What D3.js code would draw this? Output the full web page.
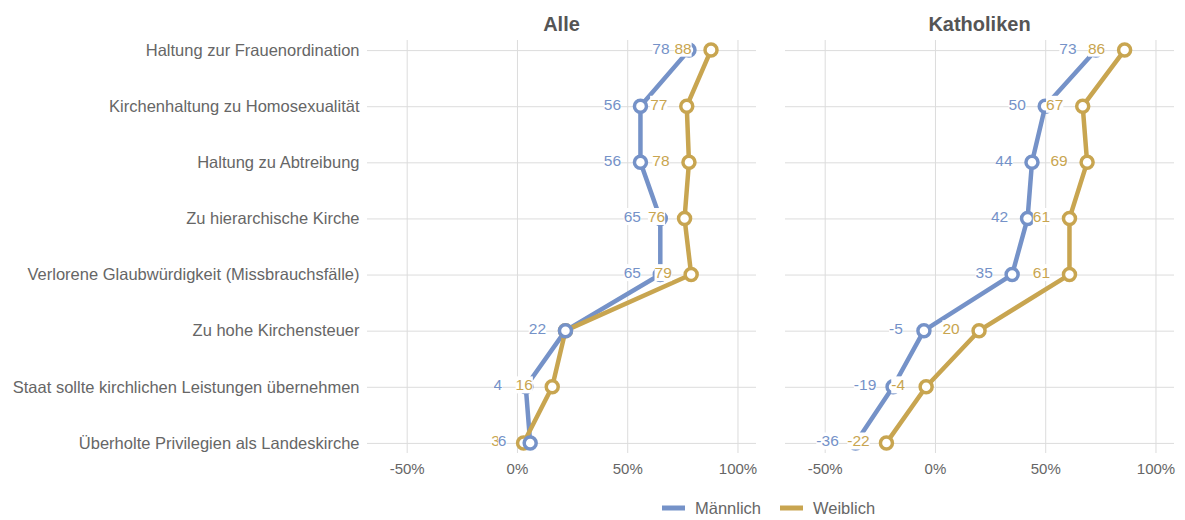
<!DOCTYPE html>
<html>
<head>
<meta charset="utf-8">
<script src="https://cdn.jsdelivr.net/npm/d3@7"></script>
<style>
  html, body { margin: 0; padding: 0; background: #fff; }
  svg { display: block; font-family: "Liberation Sans", Arial, sans-serif; }
</style>
</head>
<body>
<svg id="chart" width="1185" height="520"></svg>
<script>
const categories = [
  "Haltung zur Frauenordination",
  "Kirchenhaltung zu Homosexualität",
  "Haltung zu Abtreibung",
  "Zu hierarchische Kirche",
  "Verlorene Glaubwürdigkeit (Missbrauchsfälle)",
  "Zu hohe Kirchensteuer",
  "Staat sollte kirchlichen Leistungen übernehmen",
  "Überholte Privilegien als Landeskirche"
];
const panelTitles = ["Alle", "Katholiken"];
const seriesNames = ["Männlich", "Weiblich"];
const alleMaennlich = [78, 56, 56, 65, 65, 22, 4, 6];
const alleWeiblich = [88, 77, 78, 76, 79, 22, 16, 3];
const kathMaennlich = [73, 50, 44, 42, 35, -5, -19, -36];
const kathWeiblich = [86, 67, 69, 61, 61, 20, -4, -22];
const xTicks = [-50, 0, 50, 100];
const colors = { "Männlich": "#7592c8", "Weiblich": "#c8a550" };

const panels = [
  { title: panelTitles[0], left: 367, series: { "Männlich": alleMaennlich, "Weiblich": alleWeiblich } },
  { title: panelTitles[1], left: 785, series: { "Männlich": kathMaennlich, "Weiblich": kathWeiblich } }
];

const svg = d3.select("#chart");
const panelW = 389, plotTop = 40, plotBottom = 453;
const y = d3.scalePoint().domain(categories).range([plotTop, plotBottom]).padding(0.18);

panels.forEach((p, pi) => {
  const x = d3.scaleLinear().domain([-68, 108.4]).range([p.left, p.left + panelW]);
  const g = svg.append("g");

  // vertical grid + tick labels
  const xa = g.append("g").attr("transform", `translate(0,${plotBottom})`)
    .call(d3.axisBottom(x).tickValues(xTicks).tickFormat(d => d + "%").tickSize(-(plotBottom - plotTop)).tickPadding(10));
  xa.select(".domain").remove();
  xa.selectAll(".tick line").attr("stroke", "#dcdcdc");
  xa.selectAll(".tick text").attr("fill", "#666").style("font-size", "15px");

  // horizontal grid (+ category labels on first panel)
  const ya = g.append("g").attr("transform", `translate(${p.left},0)`)
    .call(d3.axisLeft(y).tickSize(-panelW).tickPadding(7.5));
  ya.select(".domain").remove();
  ya.selectAll(".tick line").attr("stroke", "#dcdcdc");
  if (pi === 0) {
    ya.selectAll(".tick text").attr("fill", "#666").style("font-size", "16.5px");
  } else {
    ya.selectAll(".tick text").remove();
  }

  // title
  g.append("text").attr("x", p.left + panelW / 2).attr("y", 31)
    .attr("text-anchor", "middle").attr("fill", "#555")
    .style("font-size", "20px").style("font-weight", "bold").text(p.title);

  const line = d3.line().x(d => x(d.v)).y(d => y(d.c));
  const data = name => p.series[name].map((v, i) => ({ v, c: categories[i], s: name }));

  // lines
  ["Männlich", "Weiblich"].forEach(name => {
    g.append("path").datum(data(name)).attr("d", line)
      .attr("fill", "none").attr("stroke", colors[name]).attr("stroke-width", 4.5)
      .attr("stroke-linejoin", "round");
  });
  // circles
  ["Weiblich", "Männlich"].forEach(name => {
    g.append("g").selectAll("circle").data(data(name)).join("circle")
      .attr("cx", d => x(d.v)).attr("cy", d => y(d.c)).attr("r", 6)
      .attr("fill", "#fff").attr("stroke", colors[name]).attr("stroke-width", 3.5);
  });
  // labels with white background
  ["Weiblich", "Männlich"].forEach(name => {
    const lg = g.append("g").selectAll("g").data(data(name)).join("g")
      .attr("transform", d => `translate(${x(d.v) - 28},${y(d.c) - 2})`);
    const rects = lg.append("rect").attr("fill", "#fff");
    const texts = lg.append("text").attr("text-anchor", "middle").attr("dy", "0.36em")
      .attr("fill", colors[name]).style("font-size", "15.5px").text(d => d.v);
    texts.each(function (d, i) {
      const b = this.getBBox();
      d3.select(rects.nodes()[i]).attr("x", b.x).attr("y", b.y).attr("width", b.width).attr("height", b.height);
    });
  });
});

// legend
const legend = svg.append("g");
const legendItems = [{ name: seriesNames[0], x: 662 }, { name: seriesNames[1], x: 780 }];
legendItems.forEach(it => {
  legend.append("line").attr("x1", it.x).attr("x2", it.x + 23).attr("y1", 508).attr("y2", 508)
    .attr("stroke", colors[it.name]).attr("stroke-width", 5);
  legend.append("text").attr("x", it.x + 33).attr("y", 508).attr("dy", "0.35em")
    .attr("fill", "#666").style("font-size", "16.5px").text(it.name);
});
</script>
</body>
</html>
